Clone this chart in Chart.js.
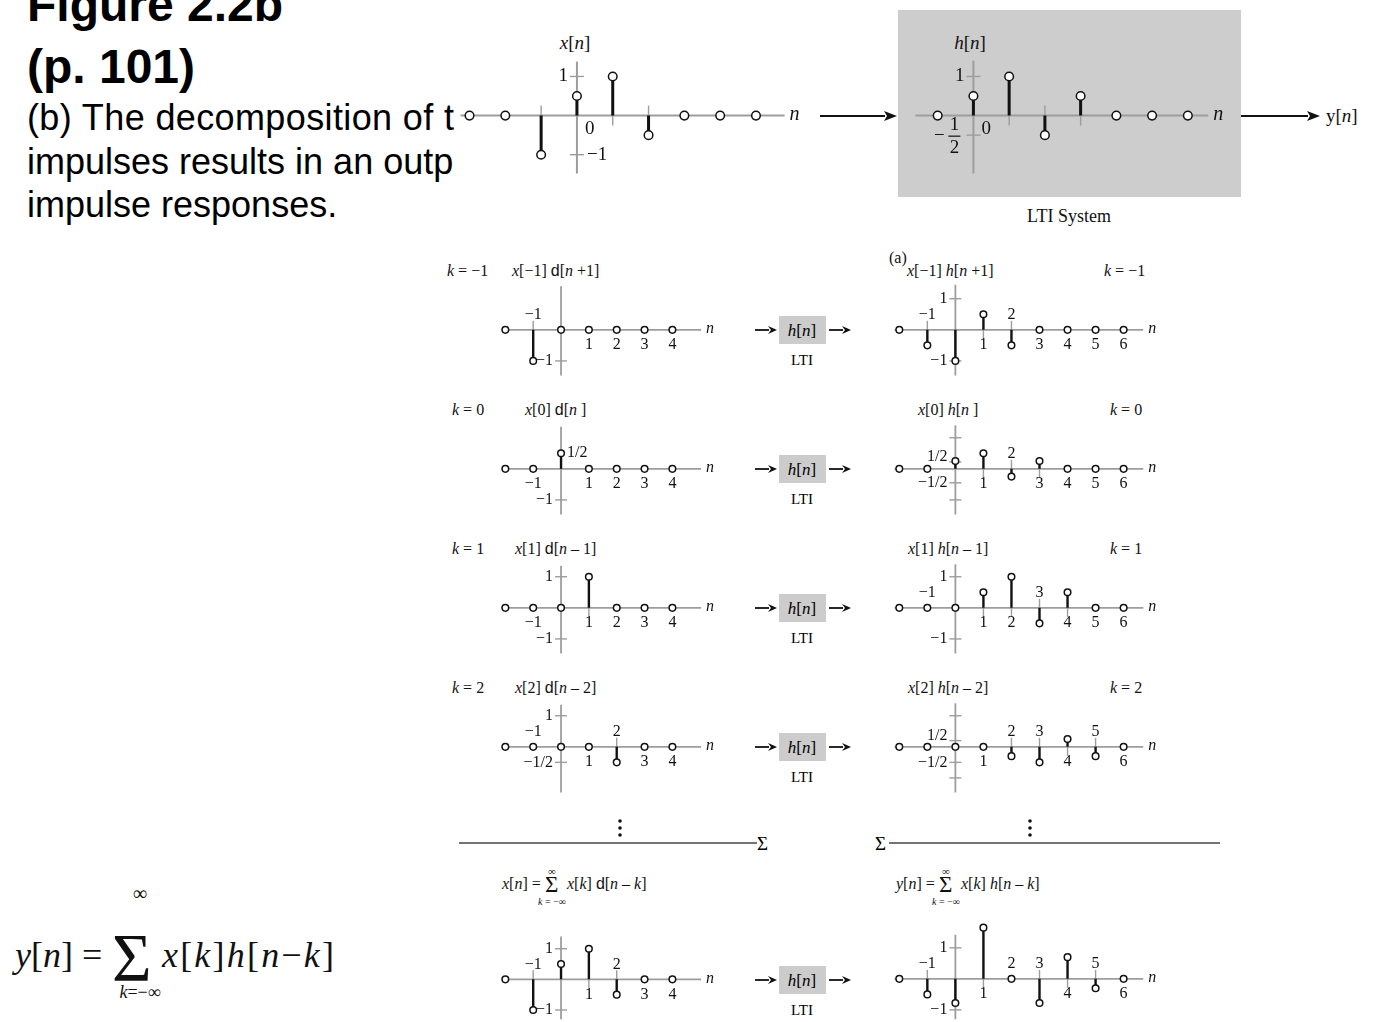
<!DOCTYPE html>
<html><head><meta charset="utf-8">
<script src="https://cdn.jsdelivr.net/npm/chart.js@4.4.1/dist/chart.umd.min.js"></script>
<style>
html,body{margin:0;padding:0;background:#fff;}
#root{position:relative;width:1374px;height:1022px;overflow:hidden;background:#fff;}
#root svg{position:absolute;left:0;top:0;z-index:0;}
#root canvas{position:absolute;z-index:1;}
</style></head>
<body><div id="root"></div>
<script>
// ---------------- DATA ----------------
// top row: input x[n] and impulse response h[n]
const nTop   = [-3, -2, -1, 0, 1, 2, 3, 4, 5];
const xTop   = [0, 0, -1, 0.5, 1, -0.5, 0, 0, 0];
const nH     = [-1, 0, 1, 2, 3, 4, 5, 6];
const hTop   = [0, 0.5, 1, -0.5, 0.5, 0, 0, 0];

// left column: weighted shifted impulses x[k] d[n-k]
const nLeft  = [-2, -1, 0, 1, 2, 3, 4];
const xdKm1  = [0, -1, 0, 0, 0, 0, 0];
const xdK0   = [0, 0, 0.5, 0, 0, 0, 0];
const xdK1   = [0, 0, 0, 1, 0, 0, 0];
const xdK2   = [0, 0, 0, 0, -0.5, 0, 0];
const xSum   = [0, -1, 0.5, 1, -0.5, 0, 0];

// right column: weighted shifted responses x[k] h[n-k]
const nRight = [-2, -1, 0, 1, 2, 3, 4, 5, 6];
const xhKm1  = [0, -0.5, -1, 0.5, -0.5, 0, 0, 0, 0];
const xhK0   = [0, 0, 0.25, 0.5, -0.25, 0.25, 0, 0, 0];
const xhK1   = [0, 0, 0, 0.5, 1, -0.5, 0.5, 0, 0];
const xhK2   = [0, 0, 0, 0, -0.3, -0.5, 0.25, -0.3, 0];
const ySum   = [0, -0.5, -0.78, 1.65, 0, -0.78, 0.7, -0.3, 0];

// vertical-axis tick values and labels
const ticksXTop = [{v:1, label:'1', side:'left'}, {v:-1, label:'−1', side:'right'}];
const ticksHTop = [{v:1, label:'1', side:'left'}, {v:-0.5, label:'FRAC', side:'left'}];
const ticksLKm1 = [{v:-1, label:'−1', side:'left'}];
const ticksLK0  = [{v:-1, label:'−1', side:'left'}, {v:0.5, label:'1/2', side:'right', mark:false}];
const ticksLK1  = [{v:1, label:'1', side:'left'}, {v:-1, label:'−1', side:'left'}];
const ticksLK2  = [{v:1, label:'1', side:'left'}, {v:-0.5, label:'−1/2', side:'left'}];
const ticksLSum = [{v:1, label:'1', side:'left'}, {v:-1, label:'−1', side:'left'}];
const ticksRKm1 = [{v:1, label:'1', side:'left'}, {v:-1, label:'−1', side:'left'}];
const ticksRK0  = [{v:1, label:'', side:'left'}, {v:0.22, label:'1/2', side:'left', up:true}, {v:-0.45, label:'−1/2', side:'left'}, {v:-1, label:'', side:'left'}];
const ticksRK1  = [{v:1, label:'1', side:'left'}, {v:-1, label:'−1', side:'left'}];
const ticksRK2  = [{v:1, label:'', side:'left'}, {v:0.2, label:'1/2', side:'left', up:true}, {v:-0.5, label:'−1/2', side:'left'}, {v:-1, label:'', side:'left'}];
const ticksRSum = [{v:1, label:'1', side:'left'}, {v:-1, label:'−1', side:'left'}];

// n-axis labels (which sample indices are labelled above / below the axis)
const aboveLKm1 = [-1],      belowLKm1 = [1, 2, 3, 4];
const aboveLK0  = [],        belowLK0  = [-1, 1, 2, 3, 4];
const aboveLK1  = [],        belowLK1  = [-1, 1, 2, 3, 4];
const aboveLK2  = [-1, 2],   belowLK2  = [1, 3, 4];
const aboveLSum = [-1, 2],   belowLSum = [1, 3, 4];
const aboveRKm1 = [-1, 2],   belowRKm1 = [1, 3, 4, 5, 6];
const aboveRK0  = [2],       belowRK0  = [1, 3, 4, 5, 6];
const aboveRK1  = [-1, 3],   belowRK1  = [1, 2, 4, 5, 6];
const aboveRK2  = [2, 3, 5], belowRK2  = [1, 4, 6];
const aboveRSum = [-1, 2, 3, 5], belowRSum = [1, 4, 6];

// ---------------- LAYOUT ----------------
const SERIF = '"Liberation Serif", "Times New Roman", serif';
const AXIS = '#9d9d9d';
const ROW_Y = [330, 469, 608, 747, 980];
const LX0 = 559, RX0 = 953, PDX = 29, PDY = 34;

function leftGeo(y0, sum){ return sum ? {box:[490, 925, 240, 97], o:[LX0, y0], dx:PDX, dy:PDY}
                                        : {box:[490, y0-58, 240, 112], o:[LX0, y0], dx:PDX, dy:PDY}; }
function rightGeo(y0, sum){ return sum ? {box:[880, 912, 290, 110], o:[RX0, y0], dx:PDX, dy:PDY}
                                         : {box:[880, y0-58, 290, 112], o:[RX0, y0], dx:PDX, dy:PDY}; }
const smallStyle = {r:3.3, sw:2.4, fs:16, axisW:1.8, tickLen:6, nOff:15, nSize:16};
const bigStyle = {r:4.3, sw:3, fs:19, axisW:2, tickLen:7, nOff:0, nSize:20};

const panels = [
  Object.assign({id:'pX', n:nTop, v:xTop, geo:{box:[455,25,360,170], o:[575,116], dx:37, dy:42},
    hAxis:[-3.25, 5.8], vAxis:[1.38, -1.48], ticks:ticksXTop, above:[], below:[], zero:true}, bigStyle),
  Object.assign({id:'pH', n:nH, v:hTop, geo:{box:[900,25,340,170], o:[970,116], dx:37, dy:42},
    hAxis:[-1.62, 6.57], vAxis:[1.4, -1.48], ticks:ticksHTop, above:[], below:[], zero:true}, bigStyle),

  Object.assign({id:'pL0', n:nLeft, v:xdKm1, geo:leftGeo(ROW_Y[0]), hAxis:[-2.14,5.03], vAxis:[1.4,-1.47], ticks:ticksLKm1, above:aboveLKm1, below:belowLKm1}, smallStyle),
  Object.assign({id:'pL1', n:nLeft, v:xdK0,  geo:leftGeo(ROW_Y[1]), hAxis:[-2.14,5.03], vAxis:[1.35,-1.47], ticks:ticksLK0, above:aboveLK0, below:belowLK0}, smallStyle),
  Object.assign({id:'pL2', n:nLeft, v:xdK1,  geo:leftGeo(ROW_Y[2]), hAxis:[-2.14,5.03], vAxis:[1.35,-1.47], ticks:ticksLK1, above:aboveLK1, below:belowLK1}, smallStyle),
  Object.assign({id:'pL3', n:nLeft, v:xdK2,  geo:leftGeo(ROW_Y[3]), hAxis:[-2.14,5.03], vAxis:[1.35,-1.47], ticks:ticksLK2, above:aboveLK2, below:belowLK2}, smallStyle),
  Object.assign({id:'pL4', n:nLeft, v:xSum,  geo:leftGeo(ROW_Y[4], true), hAxis:[-2.14,5.03], vAxis:[1.4,-1.3], ticks:ticksLSum, above:aboveLSum, below:belowLSum}, smallStyle),

  Object.assign({id:'pR0', n:nRight, v:xhKm1, geo:rightGeo(ROW_Y[0]), hAxis:[-2.17,6.7], vAxis:[1.45,-1.47], ticks:ticksRKm1, above:aboveRKm1, below:belowRKm1}, smallStyle),
  Object.assign({id:'pR1', n:nRight, v:xhK0,  geo:rightGeo(ROW_Y[1]), hAxis:[-2.17,6.7], vAxis:[1.4,-1.47], ticks:ticksRK0, above:aboveRK0, below:belowRK0}, smallStyle),
  Object.assign({id:'pR2', n:nRight, v:xhK1,  geo:rightGeo(ROW_Y[2]), hAxis:[-2.17,6.7], vAxis:[1.4,-1.47], ticks:ticksRK1, above:aboveRK1, below:belowRK1}, smallStyle),
  Object.assign({id:'pR3', n:nRight, v:xhK2,  geo:rightGeo(ROW_Y[3]), hAxis:[-2.17,6.7], vAxis:[1.4,-1.47], ticks:ticksRK2, above:aboveRK2, below:belowRK2}, smallStyle),
  Object.assign({id:'pR4', n:nRight, v:ySum,  geo:rightGeo(ROW_Y[4], true), hAxis:[-2.17,6.7], vAxis:[1.42,-1.3], ticks:ticksRSum, above:aboveRSum, below:belowRSum}, smallStyle),
];

// ---------------- STATIC TEXT / ARROWS (SVG) ----------------
function arrow(x1, x2, y, hl, hw, w){
  return `<line x1="${x1}" y1="${y}" x2="${x2-hl+1}" y2="${y}" stroke="#111" stroke-width="${w}"/>`+
         `<polygon points="${x2},${y} ${x2-hl},${y-hw} ${x2-hl+3},${y} ${x2-hl},${y+hw}" fill="#111"/>`;
}
function it(s){ return `<tspan font-style="italic">${s}</tspan>`; }
function dd(){ return `<tspan font-family="Liberation Sans, Arial, sans-serif">d</tspan>`; }
const F = 'font-family="Liberation Serif, Times New Roman, serif"';
let svg = `<svg width="1374" height="1022" xmlns="http://www.w3.org/2000/svg">
<defs><clipPath id="bodyclip"><rect x="0" y="0" width="455" height="260"/></clipPath></defs>
<g font-family="Liberation Sans, Arial, sans-serif" fill="#000">
 <text x="27" y="21" font-size="48" font-weight="bold">Figure 2.2b</text>
 <text x="27" y="83" font-size="48" font-weight="bold">(p. 101)</text>
 <g clip-path="url(#bodyclip)" font-size="36">
  <text x="27" y="130" textLength="427">(b) The decomposition of t</text>
  <text x="27" y="174">impulses results in an outp</text>
  <text x="27" y="217">impulse responses.</text>
 </g>
</g>
<rect x="898" y="10" width="343" height="187" fill="#cdcdcd"/>
<g ${F} fill="#111">
 <text x="575" y="49" font-size="19" text-anchor="middle">${it('x')}[${it('n')}]</text>
 <text x="970" y="49" font-size="19" text-anchor="middle">${it('h')}[${it('n')}]</text>
 <text x="1326" y="122" font-size="19">y[${it('n')}]</text>
 <text x="1069" y="222" font-size="18" text-anchor="middle">LTI System</text>
</g>
${arrow(820, 897, 116, 13, 5, 2.2)}
${arrow(1241, 1320, 116, 13, 5, 2.2)}
`;
// LTI blocks in each row
ROW_Y.forEach(y0 => {
  svg += `<rect x="779" y="${y0-14}" width="47" height="28" fill="#cccccc"/>
  <text x="802" y="${y0+6}" ${F} font-size="17" text-anchor="middle">${it('h')}[${it('n')}]</text>
  <text x="802" y="${y0+35}" ${F} font-size="15" text-anchor="middle">LTI</text>
  ${arrow(755, 777, y0, 9, 4, 1.8)}${arrow(829, 851, y0, 9, 4, 1.8)}`;
});
// panel titles
svg += `<g ${F} fill="#111" font-size="16">
 <text x="447" y="276">${it('k')} = −1</text>
 <text x="512" y="276">${it('x')}[−1] ${dd()}[${it('n')} +1]</text>
 <text x="889" y="263">(a)</text>
 <text x="907" y="276">${it('x')}[−1] ${it('h')}[${it('n')} +1]</text>
 <text x="1104" y="276">${it('k')} = −1</text>

 <text x="452" y="415">${it('k')} = 0</text>
 <text x="525" y="415">${it('x')}[0] ${dd()}[${it('n')} ]</text>
 <text x="918" y="415">${it('x')}[0] ${it('h')}[${it('n')} ]</text>
 <text x="1110" y="415">${it('k')} = 0</text>

 <text x="452" y="554">${it('k')} = 1</text>
 <text x="515" y="554">${it('x')}[1] ${dd()}[${it('n')} – 1]</text>
 <text x="908" y="554">${it('x')}[1] ${it('h')}[${it('n')} – 1]</text>
 <text x="1110" y="554">${it('k')} = 1</text>

 <text x="452" y="693">${it('k')} = 2</text>
 <text x="515" y="693">${it('x')}[2] ${dd()}[${it('n')} – 2]</text>
 <text x="908" y="693">${it('x')}[2] ${it('h')}[${it('n')} – 2]</text>
 <text x="1110" y="693">${it('k')} = 2</text>
</g>
<line x1="459" y1="843" x2="757" y2="843" stroke="#444" stroke-width="1.6"/>
<text x="757" y="850" ${F} font-size="19">Σ</text>
<text x="875" y="850" ${F} font-size="19">Σ</text>
<line x1="889" y1="843" x2="1220" y2="843" stroke="#444" stroke-width="1.6"/>
<g fill="#111">
 <circle cx="620" cy="821" r="1.8"/><circle cx="620" cy="828" r="1.8"/><circle cx="620" cy="835" r="1.8"/>
 <circle cx="1030" cy="821" r="1.8"/><circle cx="1030" cy="828" r="1.8"/><circle cx="1030" cy="835" r="1.8"/>
</g>
<g ${F} fill="#111">
 <text x="502" y="889" font-size="16">${it('x')}[${it('n')}] =</text>
 <text x="545" y="892" font-size="23">Σ</text>
 <text x="552" y="875" font-size="11" text-anchor="middle">∞</text>
 <text x="552" y="905" font-size="10" text-anchor="middle">${it('k')} = −∞</text>
 <text x="567" y="889" font-size="16">${it('x')}[${it('k')}] ${dd()}[${it('n')} – ${it('k')}]</text>

 <text x="896" y="889" font-size="16">${it('y')}[${it('n')}] =</text>
 <text x="939" y="892" font-size="23">Σ</text>
 <text x="946" y="875" font-size="11" text-anchor="middle">∞</text>
 <text x="946" y="905" font-size="10" text-anchor="middle">${it('k')} = −∞</text>
 <text x="961" y="889" font-size="16">${it('x')}[${it('k')}] ${it('h')}[${it('n')} – ${it('k')}]</text>

 <text x="15" y="967" font-size="36">${it('y')}[${it('n')}] =</text>
 <text x="112" y="980" font-size="68">Σ</text>
 <text x="140" y="900" font-size="20" text-anchor="middle">∞</text>
 <text x="140" y="998" font-size="18" text-anchor="middle">${it('k')}=−∞</text>
 <text x="162" y="967" font-size="36" textLength="172">${it('x')}[${it('k')}]${it('h')}[${it('n')}−${it('k')}]</text>
</g>
</svg>`;
const root = document.getElementById('root');
root.innerHTML = svg;

// ---------------- CHARTS ----------------
const decoMap = {};
function fmtN(n){ return n < 0 ? '−' + (-n) : String(n); }
const stemDecor = {
  id: 'stemDecor',
  beforeDatasetsDraw(chart){
    const d = decoMap[chart.canvas.id]; if (!d) return;
    const ctx = chart.ctx, xs = chart.scales.x, ys = chart.scales.y;
    const X = v => xs.getPixelForValue(v), Y = v => ys.getPixelForValue(v);
    const x0 = X(0), y0 = Y(0);
    ctx.save();
    ctx.strokeStyle = AXIS; ctx.lineWidth = d.axisW;
    ctx.beginPath(); ctx.moveTo(X(d.hAxis[0]), y0); ctx.lineTo(X(d.hAxis[1]), y0); ctx.stroke();
    ctx.beginPath(); ctx.moveTo(x0, Y(d.vAxis[0])); ctx.lineTo(x0, Y(d.vAxis[1])); ctx.stroke();
    ctx.lineWidth = 1.4;
    d.ticks.forEach(t => {
      if (t.mark === false) return;
      const y = Y(t.v);
      ctx.beginPath(); ctx.moveTo(x0 - d.tickLen, y); ctx.lineTo(x0 + d.tickLen, y); ctx.stroke();
    });
    d.n.forEach((n, i) => {
      const v = d.v[i]; if (!v || n === 0) return;
      const x = X(n), s = v > 0 ? 1 : -1;
      ctx.beginPath(); ctx.moveTo(x, y0); ctx.lineTo(x, y0 + s * (d.tickLen + 3)); ctx.stroke();
    });
    ctx.restore();
  },
  afterDatasetsDraw(chart){
    const d = decoMap[chart.canvas.id]; if (!d) return;
    const ctx = chart.ctx, xs = chart.scales.x, ys = chart.scales.y;
    const X = v => xs.getPixelForValue(v), Y = v => ys.getPixelForValue(v);
    const x0 = X(0), y0 = Y(0);
    ctx.save();
    ctx.fillStyle = '#111';
    ctx.font = `${d.fs}px ${SERIF}`;
    ctx.textBaseline = 'middle';
    d.ticks.forEach(t => {
      const y = Y(t.v) - (t.up ? 5 : 0);
      if (t.label === 'FRAC') {
        ctx.textAlign = 'center';
        const cx = x0 - d.tickLen - 12;
        ctx.fillText('1', cx, y - 10);
        ctx.fillText('2', cx, y + 13);
        ctx.fillText('−', cx - 15, y + 1);
        ctx.strokeStyle = '#111'; ctx.lineWidth = 1.2;
        ctx.beginPath(); ctx.moveTo(cx - 6, y + 1); ctx.lineTo(cx + 6, y + 1); ctx.stroke();
        return;
      }
      if (!t.label) return;
      if (t.side === 'left') { ctx.textAlign = 'right'; ctx.fillText(t.label, x0 - d.tickLen - 2, y); }
      else { ctx.textAlign = 'left'; ctx.fillText(t.label, x0 + (t.mark === false ? 6 : d.tickLen + 3), y); }
    });
    ctx.textAlign = 'center';
    d.above.forEach(n => ctx.fillText(fmtN(n), X(n), y0 - d.nOff));
    d.below.forEach(n => ctx.fillText(fmtN(n), X(n), y0 + d.nOff));
    if (d.zero) { ctx.textAlign = 'left'; ctx.fillText('0', x0 + 8, y0 + 13); }
    ctx.font = `italic ${d.nSize}px ${SERIF}`;
    ctx.textAlign = 'left';
    ctx.fillText('n', X(d.hAxis[1]) + 5, y0 - 1);
    ctx.restore();
  }
};

panels.forEach(p => {
  const [L, T, W, H] = p.geo.box, [ox, oy] = p.geo.o;
  const cv = document.createElement('canvas');
  cv.id = p.id; cv.width = W; cv.height = H;
  cv.style.left = L + 'px'; cv.style.top = T + 'px';
  root.appendChild(cv);
  decoMap[p.id] = p;
  const pts = p.n.map((n, i) => ({x: n, y: p.v[i]}));
  const stems = [];
  p.n.forEach((n, i) => { if (p.v[i] !== 0) { stems.push({x:n, y:0}, {x:n, y:p.v[i]}, {x:n, y:null}); } });
  new Chart(cv, {
    type: 'scatter',
    data: { datasets: [
      { type:'scatter', data: pts, pointRadius: p.r, pointHoverRadius: p.r,
        pointBackgroundColor:'#ffffff', pointBorderColor:'#111', pointBorderWidth:1.5, order:0, clip:false },
      { type:'line', data: stems, borderColor:'#111', borderWidth: p.sw, pointRadius:0,
        spanGaps:false, fill:false, order:1, clip:false, borderCapStyle:'butt' }
    ]},
    options: {
      responsive:false, animation:false, devicePixelRatio:1, events:[],
      layout:{padding:0},
      plugins:{legend:{display:false}, tooltip:{enabled:false}},
      scales:{
        x:{type:'linear', display:false, min:(L-ox)/p.geo.dx, max:(L+W-ox)/p.geo.dx},
        y:{type:'linear', display:false, min:(oy-(T+H))/p.geo.dy, max:(oy-T)/p.geo.dy}
      }
    },
    plugins:[stemDecor]
  });
});
</script>
</body></html>
